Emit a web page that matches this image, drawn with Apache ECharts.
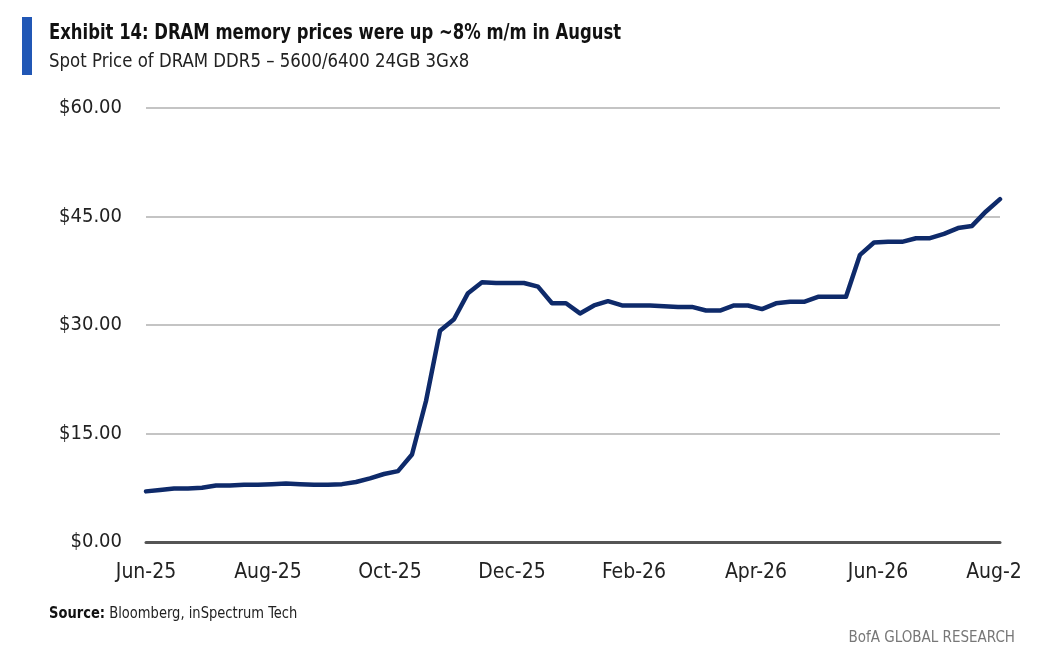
<!DOCTYPE html>
<html>
<head>
<meta charset="utf-8">
<script src="https://cdn.jsdelivr.net/npm/echarts@6/dist/echarts.min.js"></script>
<style>
  html, body { margin: 0; padding: 0; background: #fff; overflow: hidden; }
  #chart { width: 1020px; height: 658px; }
</style>
</head>
<body>
<div id="chart"></div>
<script>
// weekly spot price, USD
var prices = [
    7.0, 7.2, 7.4, 7.4, 7.5, 7.8, 7.8, 7.9, 7.9, 8.0,
    8.1, 8.0, 7.9, 7.9, 8.0, 8.3, 8.8, 9.4, 9.8, 12.1,
    19.5, 29.2, 30.8, 34.4, 35.9, 35.8, 35.8, 35.8, 35.3, 33.0,
    33.0, 31.6, 32.7, 33.3, 32.7, 32.7, 32.7, 32.6, 32.5, 32.5,
    32.0, 32.0, 32.7, 32.7, 32.2, 33.0, 33.2, 33.2, 33.9, 33.9,
    33.9, 39.7, 41.4, 41.5, 41.5, 42.0, 42.0, 42.6, 43.4, 43.7,
    45.7, 47.4
];
var weeks = prices.map(function (v, i) { return 'W' + (i + 1); });
var tickLabels = ['Jun-25', 'Aug-25', 'Oct-25', 'Dec-25', 'Feb-26', 'Apr-26', 'Jun-26', 'Aug-26'];
var yTicks = [0, 15, 30, 45, 60];

window.onload = function () {
    var myChart = echarts.init(document.getElementById('chart'));
    var font = '"DejaVu Sans Condensed", "Liberation Sans Narrow", "Roboto", sans-serif';

    option = {
        animation: false,
        backgroundColor: '#fff',
        grid: { left: 146, right: 20, top: 108, bottom: 116, outerBoundsMode: 'none', containLabel: false },
        graphic: [
            { type: 'rect', shape: { x: 22, y: 17, width: 10, height: 58 }, style: { fill: '#2157b5' } },
            { type: 'text', x: 49, y: 34, scaleX: 0.87,
              style: { x: 0, y: 0, text: 'Exhibit 14: DRAM memory prices were up ~8% m/m in August',
                font: 'bold 21px ' + font, fill: '#111', verticalAlign: 'middle' } },
            { type: 'text', x: 49, y: 62, scaleX: 0.97,
              style: { x: 0, y: 0, text: 'Spot Price of DRAM DDR5 \u2013 5600/6400 24GB 3Gx8',
                font: '19px ' + font, fill: '#222', verticalAlign: 'middle' } },
            { type: 'text', x: 49, y: 614, scaleX: 0.97,
              style: { x: 0, y: 0, text: '{b|Source:} Bloomberg, inSpectrum Tech',
                font: '15px ' + font, fill: '#222', verticalAlign: 'middle',
                rich: { b: { font: 'bold 15px ' + font, fill: '#111' } } } },
            { type: 'text', style: { x: 1015, y: 638, text: 'BofA GLOBAL RESEARCH',
                font: '15px ' + font, fill: '#777', align: 'right', verticalAlign: 'middle' } }
        ],
        xAxis: [
            {
                type: 'category',
                data: weeks,
                boundaryGap: false,
                axisLine: { show: false },
                axisTick: { show: false },
                axisLabel: { show: false }
            },
            {
                // label axis: one tick every two months
                type: 'value',
                position: 'bottom',
                min: 0,
                max: (tickLabels.length - 1) * 2,
                interval: 2,
                axisLine: { show: true, onZero: false, lineStyle: { color: '#555', width: 3 } },
                axisTick: { show: false },
                splitLine: { show: false },
                axisLabel: {
                    margin: 20,
                    fontFamily: font,
                    fontSize: 21,
                    color: '#222',
                    hideOverlap: false,
                    formatter: function (v) { return tickLabels[Math.round(v / 2)]; }
                }
            }
        ],
        yAxis: {
            type: 'value',
            min: yTicks[0],
            max: yTicks[yTicks.length - 1],
            interval: yTicks[1] - yTicks[0],
            axisLine: { show: false },
            axisTick: { show: false },
            splitLine: { lineStyle: { color: '#c4c4c4', width: 2 } },
            axisLabel: {
                margin: 24,
                fontFamily: font,
                fontSize: 20,
                color: '#222',
                verticalAlign: 'middle',
                formatter: function (v) { return '$' + v.toFixed(2); }
            }
        },
        series: [
            {
                name: 'DDR5 spot',
                type: 'line',
                xAxisIndex: 0,
                data: prices,
                showSymbol: false,
                lineStyle: { color: '#0e2a6a', width: 4.5, join: 'round', cap: 'round' }
            }
        ]
    };
    myChart.setOption(option);
}
</script>
</body>
</html>
